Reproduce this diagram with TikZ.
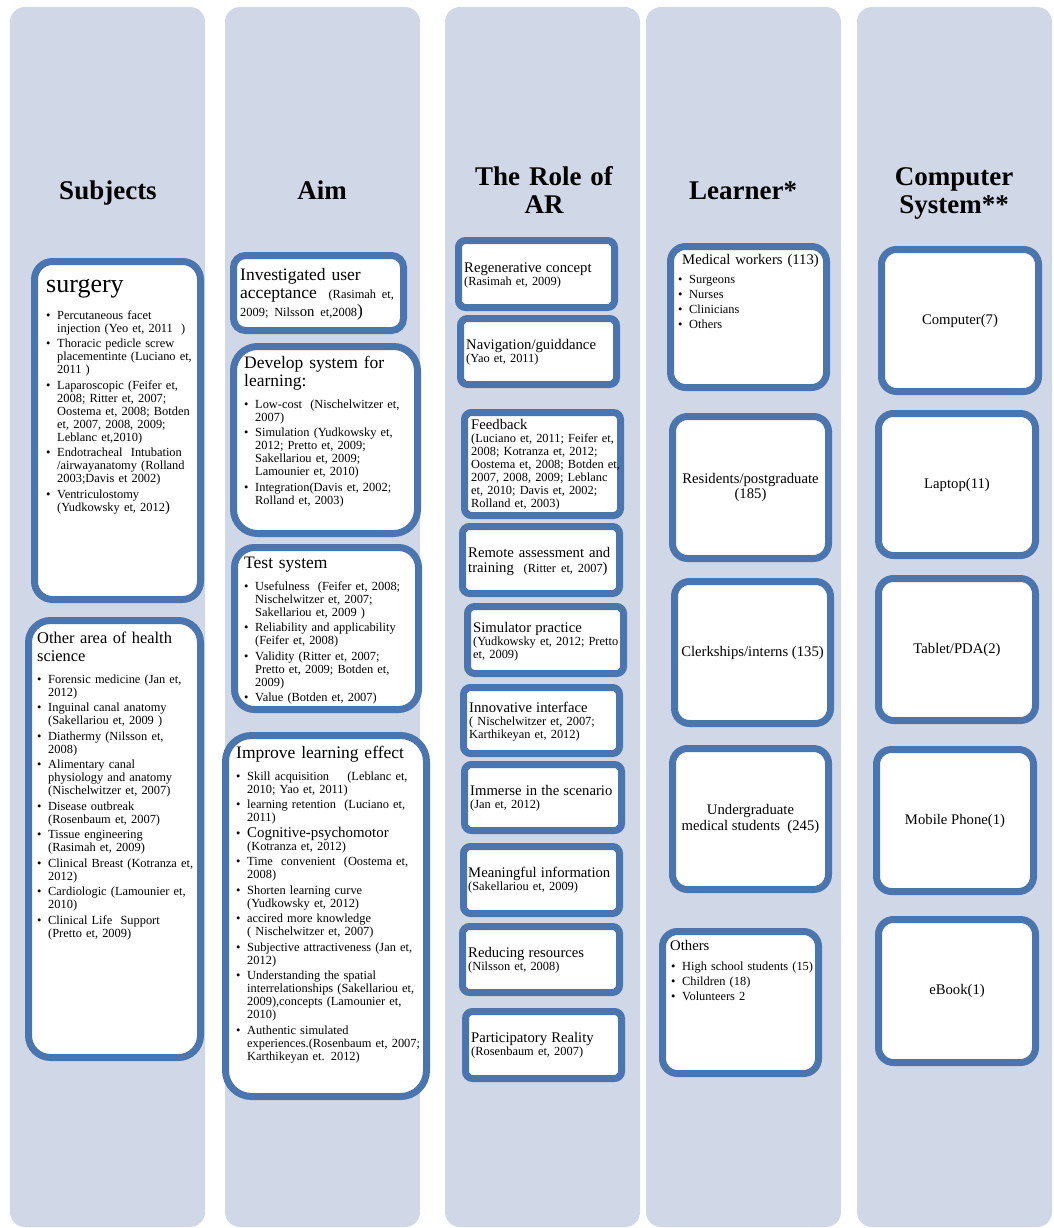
\documentclass[tikz,border=0pt]{standalone}
\usepackage{fontspec}
\setmainfont{Liberation Serif}
\definecolor{panelgray}{HTML}{D0D8E8}
\definecolor{boxblue}{HTML}{4A75AE}
\newcommand{\smalltxt}{\fontsize{12.4}{13}\selectfont}
\newcommand{\midtxt}{\fontsize{14.7}{15.2}\selectfont}
\newcommand{\headtxt}{\fontsize{17.5}{18}\selectfont}
\newcommand{\titletxt}{\fontsize{27}{28}\selectfont\bfseries}
\newcommand{\fbul}{\noindent\hangindent=11pt\hangafter=1\makebox[11pt][l]{\textbullet}}
\newcommand{\bul}[1][2.5pt]{\par\vspace{#1}\fbul}

\begin{document}
\begin{tikzpicture}[x=1pt,y=1pt]
\tikzstyle{every node}+=[inner sep=0pt]
\tikzstyle{panel}=[fill=panelgray, rounded corners=15pt]
\tikzstyle{cellbox}=[draw=boxblue, line width=7pt, fill=white, rounded corners=18pt]
\tikzstyle{rolebox}=[cellbox, rounded corners=7pt]
\tikzstyle{countbox}=[cellbox, rounded corners=15pt, align=center, font=\midtxt]
\tikzstyle{txt}=[anchor=base west, align=left, text width=210pt, font=\smalltxt]
\tikzstyle{coltitle}=[anchor=base, align=center, text width=190pt, font=\titletxt]
\useasboundingbox (0,0) rectangle (1053,-1228);
\fill[panel] (10,-7) rectangle (205,-1227);
\fill[panel] (225,-7) rectangle (420,-1227);
\fill[panel] (445,-7) rectangle (640,-1227);
\fill[panel] (646,-7) rectangle (841,-1227);
\fill[panel] (857,-7) rectangle (1052,-1227);
\node[coltitle] (tsubj) at (108,-199) {Subjects};
\node[coltitle] (taim) at (322,-199) {Aim};
\node[coltitle] (trole) at (544,-185) {The Role of\\AR};
\node[coltitle] (tlearn) at (743,-199) {Learner*};
\node[coltitle] (tcomp) at (954,-185) {Computer\\System**};
\node[cellbox, minimum width=166, minimum height=338] (surg) at (117.5,-430.5) {};
\node[txt, font=\fontsize{26}{28}\selectfont] (surgH) at (46,-292) {surgery};
\node[txt] (surgL) at (46,-319) {\fbul Percutaneous facet\newline injection (Yeo et, 2011\ \ )
\bul Thoracic pedicle screw\newline placementinte (Luciano et,\newline 2011 )
\bul Laparoscopic (Feifer et,\newline 2008; Ritter et, 2007;\newline Oostema et, 2008; Botden\newline et, 2007, 2008, 2009;\newline Leblanc et,2010)
\bul Endotracheal\ \ Intubation\newline /airwayanatomy (Rolland\newline 2003;Davis et 2002)
\bul Ventriculostomy\newline (Yudkowsky et, 2012{\midtxt )}\par};
\node[cellbox, rounded corners=22pt, minimum width=172, minimum height=437] (other) at (114.5,-839) {};
\node[txt, font=\fontsize{16.4}{18}\selectfont] (otherH) at (37,-643) {Other area of health\\science};
\node[txt] (otherL) at (37,-683) {\fbul Forensic medicine (Jan et,\newline 2012)
\bul Inguinal canal anatomy\newline (Sakellariou et, 2009 )
\bul Diathermy (Nilsson et,\newline 2008)
\bul Alimentary canal\newline physiology and anatomy\newline (Nischelwitzer et, 2007)
\bul Disease outbreak\newline (Rosenbaum et, 2007)
\bul Tissue engineering\newline (Rasimah et, 2009)
\bul Clinical Breast (Kotranza et,\newline 2012)
\bul Cardiologic (Lamounier et,\newline 2010)
\bul Clinical Life\ \ Support\newline (Pretto et, 2009)\par};
\node[cellbox, rounded corners=12pt, minimum width=170, minimum height=75] (invest) at (318.5,-293) {};
\node[txt, font=\headtxt] (investT) at (240,-280) {Investigated user\\acceptance {\smalltxt\ (Rasimah et,}\\{\smalltxt 2009; Nilss}{\midtxt on}{\smalltxt\ et,2008})};
\node[cellbox, rounded corners=24pt, minimum width=184, minimum height=187] (devel) at (325.5,-440) {};
\node[txt, font=\headtxt] (develH) at (244,-368) {Develop system for\\learning:};
\node[txt] (develL) at (244,-408) {\fbul Low-cost\ \ (Nischelwitzer et,\newline 2007)
\bul Simulation (Yudkowsky et,\newline 2012; Pretto et, 2009;\newline Sakellariou et, 2009;\newline Lamounier et, 2010)
\bul Integration(Davis et, 2002;\newline Rolland et, 2003)\par};
\node[cellbox, rounded corners=20pt, minimum width=184, minimum height=162] (test) at (326.5,-628.5) {};
\node[txt, font=\headtxt] (testH) at (244,-568) {Test system};
\node[txt] (testL) at (244,-590) {\fbul Usefulness\ \ (Feifer et, 2008;\newline Nischelwitzer et, 2007;\newline Sakellariou et, 2009 )
\bul Reliability and applicability\newline (Feifer et, 2008)
\bul Validity (Ritter et, 2007;\newline Pretto et, 2009; Botden et,\newline 2009)
\bul Value (Botden et, 2007)\par};
\node[cellbox, rounded corners=26pt, minimum width=201, minimum height=361] (improv) at (326,-916) {};
\node[txt, font=\headtxt] (improvH) at (236,-758) {Improve learning effect};
\node[txt] (improvL) at (236,-780) {\fbul Skill acquisition\hspace{14pt} (Leblanc et,\newline 2010; Yao et, 2011)
\bul learning retention\ \ (Luciano et,\newline 2011)
\bul {\fontsize{14.9}{15}\selectfont Cognitive{\bfseries -}psychomotor}\newline (Kotranza et, 2012)
\bul Time\ \ convenient\ \ (Oostema et,\newline 2008)
\bul Shorten learning curve\newline (Yudkowsky et, 2012)
\bul accired more knowledge\newline ( Nischelwitzer et, 2007)
\bul Subjective attractiveness (Jan et,\newline 2012)
\bul Understanding the spatial\newline interrelationships (Sakellariou et,\newline 2009),concepts (Lamounier et,\newline 2010)
\bul Authentic simulated\newline experiences.(Rosenbaum et, 2007;\newline Karthikeyan et. 2012)\par};
\node[rolebox, minimum width=156, minimum height=67] (regen) at (536.5,-274) {};
\node[txt] (regenT) at (464,-272) {{\midtxt Regenerative concept}\\(Rasimah et, 2009)};
\node[rolebox, minimum width=156, minimum height=66] (navi) at (538.5,-351.5) {};
\node[txt] (naviT) at (466,-349) {{\midtxt Navigation/guiddance}\\(Yao et, 2011)};
\node[rolebox, minimum width=156, minimum height=103] (feedb) at (542.5,-464) {};
\node[txt] (feedbT) at (471,-429) {{\midtxt Feedback}\\(Luciano et, 2011; Feifer et,\\2008; Kotranza et, 2012;\\Oostema et, 2008; Botden et,\\2007, 2008, 2009; Leblanc\\et, 2010; Davis et, 2002;\\Rolland et, 2003)};
\node[rolebox, minimum width=157, minimum height=67] (remote) at (541,-560) {};
\node[txt, font=\midtxt] (remoteT) at (468,-557) {Remote assessment and\\training {\smalltxt\ (Ritter et, 2007})};
\node[rolebox, minimum width=156, minimum height=67] (simul) at (545.5,-640) {};
\node[txt] (simulT) at (473,-632) {{\midtxt Simulator practice}\\(Yudkowsky et, 2012; Pretto\\et, 2009)};
\node[rolebox, minimum width=156, minimum height=66] (innov) at (541.5,-720.5) {};
\node[txt] (innovT) at (469,-712) {{\midtxt Innovative interface}\\( Nischelwitzer et, 2007;\\Karthikeyan et, 2012)};
\node[rolebox, minimum width=157, minimum height=66] (immer) at (543,-797.5) {};
\node[txt] (immerT) at (470,-795) {{\midtxt Immerse in the scenario}\\(Jan et, 2012)};
\node[rolebox, minimum width=156, minimum height=67] (meanf) at (541.5,-880) {};
\node[txt] (meanfT) at (468,-877) {{\midtxt Meaningful information}\\(Sakellariou et, 2009)};
\node[rolebox, minimum width=157, minimum height=66] (reduc) at (541,-959.5) {};
\node[txt] (reducT) at (468,-957) {{\midtxt Reducing resources}\\(Nilsson et, 2008)};
\node[rolebox, minimum width=156, minimum height=67] (partic) at (543.5,-1045) {};
\node[txt] (particT) at (471,-1042) {{\midtxt Participatory Reality}\\(Rosenbaum et, 2007)};
\node[cellbox, rounded corners=15pt, minimum width=156, minimum height=141] (medic) at (748.5,-317) {};
\node[txt, font=\midtxt] (medicH) at (682,-264) {Medical workers (113)};
\node[txt] (medicL) at (678,-283) {\fbul Surgeons\bul[2pt]Nurses\bul[2pt]Clinicians\bul[2pt]Others\par};
\node[countbox, minimum width=156, minimum height=142] (resid) at (750.5,-487.5) {Residents/postgraduate\\(185)};
\node[countbox, minimum width=156, minimum height=142] (clerk) at (752.5,-652.5) {Clerkships/interns (135)};
\node[countbox, minimum width=156, minimum height=141] (under) at (750.5,-819) {Undergraduate\\medical students\ \ (245)};
\node[cellbox, rounded corners=15pt, minimum width=156, minimum height=142] (othr) at (740.5,-1002.5) {};
\node[txt, font=\midtxt] (othrH) at (670,-950) {Others};
\node[txt] (othrL) at (671,-970) {\fbul High school students (15)\bul[2pt]Children (18)\bul[2pt]Volunteers 2\par};
\node[countbox, minimum width=157, minimum height=142] (comp) at (960,-320.5) {Computer(7)};
\node[countbox, minimum width=157, minimum height=142] (lapt) at (957,-484.5) {Laptop(11)};
\node[countbox, minimum width=157, minimum height=142] (tabl) at (957,-649.5) {Tablet/PDA(2)};
\node[countbox, minimum width=157, minimum height=142] (mobi) at (955,-820.5) {Mobile Phone(1)};
\node[countbox, minimum width=157, minimum height=143] (ebook) at (957,-991) {eBook(1)};
\end{tikzpicture}
\end{document}
